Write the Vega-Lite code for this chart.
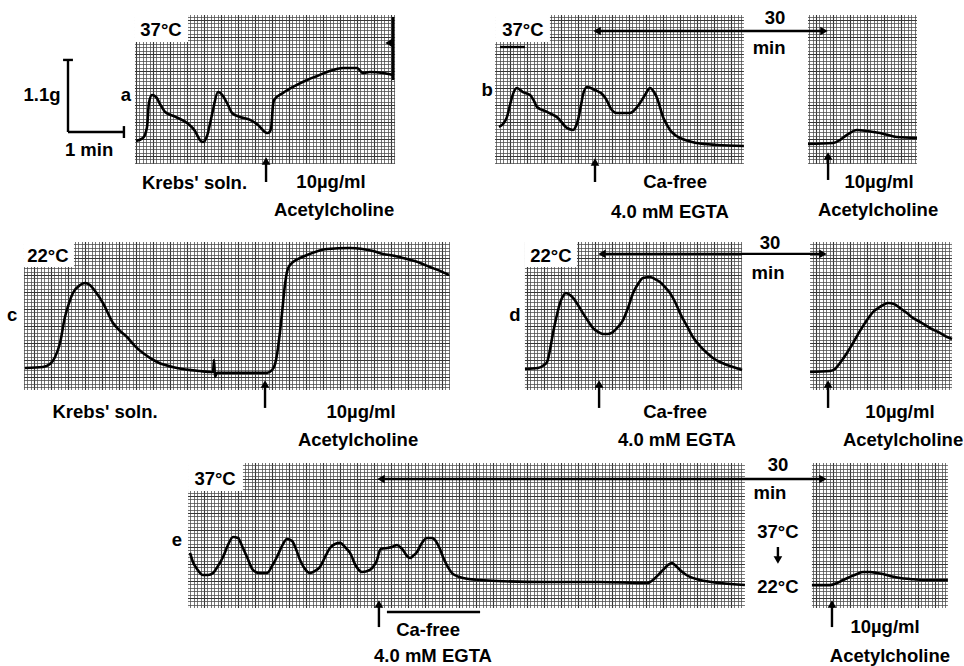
{
  "$schema": "https://vega.github.io/schema/vega-lite/v6.json",
  "width": 964,
  "height": 666,
  "autosize": {"type": "none"},
  "padding": 0,
  "background": "white",
  "config": {
    "view": {"stroke": null},
    "axis": {"labels": false, "ticks": false, "domain": false},
    "text": {"font": "Liberation Sans", "fontWeight": "bold", "fontSize": 18.5}
  },
  "datasets": {
    "mask": [
      {"t": 0, "t2": 567.06, "f": 382.9, "f2": 391.76},
      {"t": 0, "t2": 79.4, "f": 294.8, "f2": 383.4},
      {"t": 232.4, "t2": 291.2, "f": 294.8, "f2": 383.4},
      {"t": 437.6, "t2": 475.3, "f": 294.8, "f2": 383.4},
      {"t": 539.4, "t2": 567.06, "f": 294.8, "f2": 383.4},
      {"t": 0, "t2": 567.06, "f": 249.4, "f2": 295.3},
      {"t": 0, "t2": 14.1, "f": 161.9, "f2": 249.9},
      {"t": 264.7, "t2": 308.8, "f": 161.9, "f2": 249.9},
      {"t": 436.5, "t2": 476.5, "f": 161.9, "f2": 249.9},
      {"t": 560.0, "t2": 567.06, "f": 161.9, "f2": 249.9},
      {"t": 0, "t2": 567.06, "f": 119.4, "f2": 162.4},
      {"t": 0, "t2": 110.6, "f": 33.6, "f2": 119.9},
      {"t": 438.2, "t2": 477.6, "f": 33.6, "f2": 119.9},
      {"t": 557.6, "t2": 567.06, "f": 33.6, "f2": 119.9},
      {"t": 0, "t2": 567.06, "f": 0, "f2": 34.1},
      {"t": 79.4, "t2": 110.6, "f": 367.1, "f2": 382.9},
      {"t": 291.2, "t2": 323.5, "f": 367.1, "f2": 382.9},
      {"t": 14.1, "t2": 43.5, "f": 234.7, "f2": 249.4},
      {"t": 308.8, "t2": 339.4, "f": 234.7, "f2": 249.4},
      {"t": 110.6, "t2": 142.9, "f": 102.9, "f2": 119.4}
    ],
    "trace": [
      {"p": "a", "t": 80.0, "f": 308.8}, {"p": "a", "t": 84.1, "f": 310.6}, {"p": "a", "t": 86.5, "f": 317.1}, {"p": "a", "t": 87.6, "f": 331.2},
      {"p": "a", "t": 89.4, "f": 335.9}, {"p": "a", "t": 91.8, "f": 334.7}, {"p": "a", "t": 94.1, "f": 330.6}, {"p": "a", "t": 97.1, "f": 325.9},
      {"p": "a", "t": 103.5, "f": 322.9}, {"p": "a", "t": 110.0, "f": 319.4}, {"p": "a", "t": 114.7, "f": 314.7}, {"p": "a", "t": 117.6, "f": 309.4},
      {"p": "a", "t": 119.4, "f": 308.2}, {"p": "a", "t": 121.8, "f": 311.8}, {"p": "a", "t": 123.5, "f": 318.8}, {"p": "a", "t": 125.3, "f": 327.1},
      {"p": "a", "t": 128.2, "f": 337.6}, {"p": "a", "t": 131.2, "f": 335.3}, {"p": "a", "t": 134.1, "f": 330.0}, {"p": "a", "t": 136.5, "f": 325.3},
      {"p": "a", "t": 141.2, "f": 322.9}, {"p": "a", "t": 147.1, "f": 321.2}, {"p": "a", "t": 151.8, "f": 318.2}, {"p": "a", "t": 155.9, "f": 314.1},
      {"p": "a", "t": 157.6, "f": 313.5}, {"p": "a", "t": 159.4, "f": 315.9}, {"p": "a", "t": 160.6, "f": 330.0}, {"p": "a", "t": 161.2, "f": 332.9},
      {"p": "a", "t": 166.5, "f": 337.1}, {"p": "a", "t": 173.5, "f": 341.2}, {"p": "a", "t": 180.6, "f": 344.7}, {"p": "a", "t": 186.5, "f": 347.1},
      {"p": "a", "t": 192.4, "f": 349.4}, {"p": "a", "t": 201.8, "f": 351.8}, {"p": "a", "t": 210.0, "f": 351.8}, {"p": "a", "t": 213.5, "f": 348.8},
      {"p": "a", "t": 217.6, "f": 349.4}, {"p": "a", "t": 225.3, "f": 348.8}, {"p": "a", "t": 231.2, "f": 347.6},

      {"p": "b", "t": 293.5, "f": 317.1}, {"p": "b", "t": 295.9, "f": 318.8}, {"p": "b", "t": 298.2, "f": 322.9}, {"p": "b", "t": 300.0, "f": 330.0},
      {"p": "b", "t": 301.2, "f": 334.7}, {"p": "b", "t": 304.1, "f": 340.0}, {"p": "b", "t": 307.6, "f": 337.6}, {"p": "b", "t": 311.8, "f": 335.9},
      {"p": "b", "t": 314.1, "f": 332.4}, {"p": "b", "t": 315.9, "f": 328.8}, {"p": "b", "t": 321.8, "f": 325.9}, {"p": "b", "t": 328.2, "f": 322.4},
      {"p": "b", "t": 333.5, "f": 316.5}, {"p": "b", "t": 337.1, "f": 315.3}, {"p": "b", "t": 338.8, "f": 317.6}, {"p": "b", "t": 340.0, "f": 321.2},
      {"p": "b", "t": 341.8, "f": 330.0}, {"p": "b", "t": 342.9, "f": 335.9}, {"p": "b", "t": 345.3, "f": 340.6}, {"p": "b", "t": 350.0, "f": 338.8},
      {"p": "b", "t": 354.7, "f": 335.9}, {"p": "b", "t": 357.1, "f": 332.4}, {"p": "b", "t": 358.8, "f": 328.8}, {"p": "b", "t": 362.9, "f": 325.3},
      {"p": "b", "t": 370.6, "f": 325.3}, {"p": "b", "t": 376.5, "f": 331.2}, {"p": "b", "t": 379.4, "f": 335.9}, {"p": "b", "t": 382.4, "f": 340.0},
      {"p": "b", "t": 384.7, "f": 337.6}, {"p": "b", "t": 386.5, "f": 334.1}, {"p": "b", "t": 388.2, "f": 328.8}, {"p": "b", "t": 390.0, "f": 322.9},
      {"p": "b", "t": 392.4, "f": 318.2}, {"p": "b", "t": 394.1, "f": 315.3}, {"p": "b", "t": 397.1, "f": 312.4}, {"p": "b", "t": 400.0, "f": 310.6},
      {"p": "b", "t": 410.0, "f": 307.6}, {"p": "b", "t": 421.8, "f": 306.5}, {"p": "b", "t": 437.6, "f": 305.9},

      {"p": "b2", "t": 475.3, "f": 307.1}, {"p": "b2", "t": 490.0, "f": 307.6}, {"p": "b2", "t": 494.1, "f": 309.4}, {"p": "b2", "t": 498.2, "f": 312.4},
      {"p": "b2", "t": 504.1, "f": 315.3}, {"p": "b2", "t": 510.0, "f": 314.7}, {"p": "b2", "t": 517.6, "f": 313.5}, {"p": "b2", "t": 527.6, "f": 311.2},
      {"p": "b2", "t": 539.4, "f": 310.6},

      {"p": "c", "t": 14.7, "f": 175.3}, {"p": "c", "t": 25.3, "f": 175.9}, {"p": "c", "t": 29.4, "f": 177.6}, {"p": "c", "t": 32.4, "f": 181.8},
      {"p": "c", "t": 35.3, "f": 190.0}, {"p": "c", "t": 38.2, "f": 205.3}, {"p": "c", "t": 40.6, "f": 213.5}, {"p": "c", "t": 42.9, "f": 219.4},
      {"p": "c", "t": 47.1, "f": 224.1}, {"p": "c", "t": 50.0, "f": 225.3}, {"p": "c", "t": 52.9, "f": 224.1}, {"p": "c", "t": 55.9, "f": 220.6},
      {"p": "c", "t": 60.6, "f": 213.5}, {"p": "c", "t": 66.5, "f": 201.8}, {"p": "c", "t": 70.6, "f": 197.1}, {"p": "c", "t": 74.7, "f": 193.5},
      {"p": "c", "t": 79.4, "f": 188.2}, {"p": "c", "t": 84.1, "f": 184.1}, {"p": "c", "t": 92.4, "f": 178.8}, {"p": "c", "t": 104.1, "f": 175.3},
      {"p": "c", "t": 117.6, "f": 173.5}, {"p": "c", "t": 125.3, "f": 172.9}, {"p": "c", "t": 125.9, "f": 180.0}, {"p": "c", "t": 126.5, "f": 170.0},
      {"p": "c", "t": 127.6, "f": 172.4}, {"p": "c", "t": 137.1, "f": 172.4}, {"p": "c", "t": 157.1, "f": 172.4}, {"p": "c", "t": 160.0, "f": 174.1},
      {"p": "c", "t": 161.8, "f": 177.6}, {"p": "c", "t": 162.9, "f": 182.9}, {"p": "c", "t": 164.7, "f": 196.5}, {"p": "c", "t": 165.9, "f": 207.6},
      {"p": "c", "t": 167.6, "f": 224.1}, {"p": "c", "t": 168.8, "f": 231.8}, {"p": "c", "t": 170.6, "f": 235.9}, {"p": "c", "t": 172.4, "f": 237.6},
      {"p": "c", "t": 176.5, "f": 240.0}, {"p": "c", "t": 180.6, "f": 241.8}, {"p": "c", "t": 192.4, "f": 245.3}, {"p": "c", "t": 205.9, "f": 245.9},
      {"p": "c", "t": 219.4, "f": 244.1}, {"p": "c", "t": 225.3, "f": 242.4}, {"p": "c", "t": 232.4, "f": 241.2}, {"p": "c", "t": 239.4, "f": 239.4},
      {"p": "c", "t": 247.1, "f": 237.1}, {"p": "c", "t": 252.9, "f": 234.7}, {"p": "c", "t": 258.8, "f": 232.4}, {"p": "c", "t": 264.1, "f": 230.0},

      {"p": "d", "t": 308.8, "f": 174.7}, {"p": "d", "t": 316.5, "f": 175.3}, {"p": "d", "t": 320.0, "f": 177.1}, {"p": "d", "t": 321.8, "f": 178.8},
      {"p": "d", "t": 323.5, "f": 185.9}, {"p": "d", "t": 325.3, "f": 195.9}, {"p": "d", "t": 327.6, "f": 206.5}, {"p": "d", "t": 329.4, "f": 213.5},
      {"p": "d", "t": 331.2, "f": 217.6}, {"p": "d", "t": 332.9, "f": 219.4}, {"p": "d", "t": 335.3, "f": 218.2}, {"p": "d", "t": 337.1, "f": 216.5},
      {"p": "d", "t": 340.0, "f": 212.4}, {"p": "d", "t": 342.9, "f": 207.6}, {"p": "d", "t": 345.9, "f": 202.9}, {"p": "d", "t": 348.8, "f": 198.8},
      {"p": "d", "t": 351.8, "f": 196.5}, {"p": "d", "t": 354.7, "f": 195.3}, {"p": "d", "t": 357.6, "f": 195.3}, {"p": "d", "t": 360.6, "f": 196.5},
      {"p": "d", "t": 363.5, "f": 199.4}, {"p": "d", "t": 366.5, "f": 203.5}, {"p": "d", "t": 369.4, "f": 210.6}, {"p": "d", "t": 372.4, "f": 219.4},
      {"p": "d", "t": 375.3, "f": 224.7}, {"p": "d", "t": 378.2, "f": 228.2}, {"p": "d", "t": 382.4, "f": 228.8}, {"p": "d", "t": 385.3, "f": 227.6},
      {"p": "d", "t": 388.2, "f": 225.9}, {"p": "d", "t": 391.2, "f": 222.9}, {"p": "d", "t": 394.1, "f": 219.4}, {"p": "d", "t": 397.1, "f": 214.1},
      {"p": "d", "t": 400.0, "f": 207.6}, {"p": "d", "t": 404.1, "f": 200.0}, {"p": "d", "t": 407.6, "f": 193.5}, {"p": "d", "t": 411.8, "f": 188.2},
      {"p": "d", "t": 415.9, "f": 184.1}, {"p": "d", "t": 419.4, "f": 181.2}, {"p": "d", "t": 423.5, "f": 178.8}, {"p": "d", "t": 427.6, "f": 177.1},
      {"p": "d", "t": 431.2, "f": 175.9}, {"p": "d", "t": 436.5, "f": 174.1},

      {"p": "d2", "t": 476.5, "f": 172.9}, {"p": "d2", "t": 488.2, "f": 173.5}, {"p": "d2", "t": 491.2, "f": 174.7}, {"p": "d2", "t": 494.1, "f": 178.2},
      {"p": "d2", "t": 498.2, "f": 184.1}, {"p": "d2", "t": 501.8, "f": 190.0}, {"p": "d2", "t": 505.9, "f": 197.1}, {"p": "d2", "t": 510.0, "f": 203.5},
      {"p": "d2", "t": 513.5, "f": 208.2}, {"p": "d2", "t": 517.6, "f": 211.2}, {"p": "d2", "t": 522.4, "f": 213.5}, {"p": "d2", "t": 525.9, "f": 212.9},
      {"p": "d2", "t": 529.4, "f": 210.6}, {"p": "d2", "t": 533.5, "f": 207.6}, {"p": "d2", "t": 537.1, "f": 204.7}, {"p": "d2", "t": 541.2, "f": 202.4},
      {"p": "d2", "t": 547.1, "f": 198.8}, {"p": "d2", "t": 552.9, "f": 195.9}, {"p": "d2", "t": 557.1, "f": 193.5}, {"p": "d2", "t": 560.0, "f": 192.4},

      {"p": "e", "t": 111.8, "f": 66.5}, {"p": "e", "t": 113.5, "f": 61.2}, {"p": "e", "t": 115.9, "f": 57.1}, {"p": "e", "t": 119.4, "f": 53.5},
      {"p": "e", "t": 122.4, "f": 53.5}, {"p": "e", "t": 125.3, "f": 54.7}, {"p": "e", "t": 128.2, "f": 58.8}, {"p": "e", "t": 131.2, "f": 64.1},
      {"p": "e", "t": 134.1, "f": 71.2}, {"p": "e", "t": 137.1, "f": 75.9}, {"p": "e", "t": 140.0, "f": 75.3}, {"p": "e", "t": 142.4, "f": 70.6},
      {"p": "e", "t": 145.3, "f": 64.1}, {"p": "e", "t": 148.8, "f": 56.5}, {"p": "e", "t": 152.9, "f": 54.7}, {"p": "e", "t": 157.1, "f": 54.7},
      {"p": "e", "t": 160.0, "f": 58.8}, {"p": "e", "t": 162.9, "f": 64.1}, {"p": "e", "t": 165.9, "f": 70.6}, {"p": "e", "t": 168.8, "f": 74.7},
      {"p": "e", "t": 171.8, "f": 73.5}, {"p": "e", "t": 174.1, "f": 68.8}, {"p": "e", "t": 176.5, "f": 62.4}, {"p": "e", "t": 179.4, "f": 57.1},
      {"p": "e", "t": 182.4, "f": 54.7}, {"p": "e", "t": 185.3, "f": 55.9}, {"p": "e", "t": 188.2, "f": 58.2}, {"p": "e", "t": 191.2, "f": 64.1},
      {"p": "e", "t": 194.1, "f": 69.4}, {"p": "e", "t": 197.1, "f": 71.8}, {"p": "e", "t": 200.0, "f": 72.4}, {"p": "e", "t": 202.9, "f": 70.0},
      {"p": "e", "t": 205.9, "f": 66.5}, {"p": "e", "t": 209.4, "f": 58.8}, {"p": "e", "t": 212.9, "f": 55.3}, {"p": "e", "t": 217.6, "f": 56.5},
      {"p": "e", "t": 220.6, "f": 60.0}, {"p": "e", "t": 221.8, "f": 62.4}, {"p": "e", "t": 222.9, "f": 66.5}, {"p": "e", "t": 224.1, "f": 68.8},
      {"p": "e", "t": 227.6, "f": 69.4}, {"p": "e", "t": 230.6, "f": 70.0}, {"p": "e", "t": 233.5, "f": 71.2}, {"p": "e", "t": 235.3, "f": 70.0},
      {"p": "e", "t": 237.1, "f": 68.2}, {"p": "e", "t": 239.4, "f": 64.7}, {"p": "e", "t": 241.2, "f": 63.5}, {"p": "e", "t": 242.9, "f": 64.7},
      {"p": "e", "t": 245.3, "f": 67.1}, {"p": "e", "t": 248.2, "f": 72.4}, {"p": "e", "t": 251.2, "f": 75.3}, {"p": "e", "t": 254.1, "f": 75.3},
      {"p": "e", "t": 255.9, "f": 74.1}, {"p": "e", "t": 258.8, "f": 68.8}, {"p": "e", "t": 260.6, "f": 64.1}, {"p": "e", "t": 263.5, "f": 58.2},
      {"p": "e", "t": 265.9, "f": 54.7}, {"p": "e", "t": 268.8, "f": 52.9}, {"p": "e", "t": 272.4, "f": 51.8}, {"p": "e", "t": 282.4, "f": 50.6},
      {"p": "e", "t": 292.4, "f": 50.0}, {"p": "e", "t": 321.8, "f": 49.4}, {"p": "e", "t": 352.9, "f": 49.4}, {"p": "e", "t": 380.6, "f": 48.8},
      {"p": "e", "t": 382.4, "f": 49.4}, {"p": "e", "t": 384.1, "f": 50.6}, {"p": "e", "t": 387.1, "f": 53.5}, {"p": "e", "t": 390.0, "f": 56.5},
      {"p": "e", "t": 392.9, "f": 59.4}, {"p": "e", "t": 395.3, "f": 60.6}, {"p": "e", "t": 397.6, "f": 58.8}, {"p": "e", "t": 400.0, "f": 56.5},
      {"p": "e", "t": 402.9, "f": 54.1}, {"p": "e", "t": 405.9, "f": 52.4}, {"p": "e", "t": 411.8, "f": 50.6}, {"p": "e", "t": 423.5, "f": 48.8},
      {"p": "e", "t": 438.2, "f": 47.6},

      {"p": "e2", "t": 477.6, "f": 47.6}, {"p": "e2", "t": 488.2, "f": 47.6}, {"p": "e2", "t": 492.4, "f": 48.8}, {"p": "e2", "t": 495.9, "f": 50.6},
      {"p": "e2", "t": 500.0, "f": 52.4}, {"p": "e2", "t": 504.1, "f": 54.1}, {"p": "e2", "t": 507.6, "f": 55.3}, {"p": "e2", "t": 511.8, "f": 55.3},
      {"p": "e2", "t": 515.9, "f": 54.7}, {"p": "e2", "t": 519.4, "f": 54.1}, {"p": "e2", "t": 523.5, "f": 52.9}, {"p": "e2", "t": 529.4, "f": 51.8},
      {"p": "e2", "t": 535.3, "f": 51.2}, {"p": "e2", "t": 542.9, "f": 50.6}, {"p": "e2", "t": 557.6, "f": 50.6}
    ],
    "rules": [
      {"t": 40.0, "t2": 40.0, "f": 356.5, "f2": 314.1},
      {"t": 37.1, "t2": 42.9, "f": 356.5, "f2": 356.5},
      {"t": 40.0, "t2": 72.9, "f": 314.1, "f2": 314.1},
      {"t": 72.9, "t2": 72.9, "f": 317.6, "f2": 310.6},
      {"t": 231.2, "t2": 231.2, "f": 381.8, "f2": 344.7},
      {"t": 294.1, "t2": 308.8, "f": 364.1, "f2": 364.1},
      {"t": 351.2, "t2": 484.7, "f": 373.5, "f2": 373.5},
      {"t": 354.1, "t2": 484.1, "f": 242.4, "f2": 242.4},
      {"t": 224.1, "t2": 484.1, "f": 110.0, "f2": 110.0},
      {"t": 156.5, "t2": 156.5, "f": 284.7, "f2": 297.1},
      {"t": 350.0, "t2": 350.0, "f": 284.7, "f2": 296.5},
      {"t": 487.1, "t2": 487.1, "f": 285.9, "f2": 300.0},
      {"t": 155.9, "t2": 155.9, "f": 151.8, "f2": 165.9},
      {"t": 352.4, "t2": 352.4, "f": 151.8, "f2": 165.9},
      {"t": 487.1, "t2": 487.1, "f": 151.8, "f2": 165.9},
      {"t": 222.9, "t2": 222.9, "f": 22.9, "f2": 36.5},
      {"t": 489.4, "t2": 489.4, "f": 22.9, "f2": 36.5},
      {"t": 457.6, "t2": 457.6, "f": 70.0, "f2": 62.4},
      {"t": 227.6, "t2": 282.4, "f": 31.8, "f2": 31.8}
    ],
    "heads": [
      {"t": 351.2, "f": 373.5, "dir": "left"}, {"t": 484.7, "f": 373.5, "dir": "right"},
      {"t": 354.1, "f": 242.4, "dir": "left"}, {"t": 484.1, "f": 242.4, "dir": "right"},
      {"t": 224.1, "f": 110.0, "dir": "left"}, {"t": 484.1, "f": 110.0, "dir": "right"},
      {"t": 156.5, "f": 297.1, "dir": "up"}, {"t": 350.0, "f": 296.5, "dir": "up"},
      {"t": 487.1, "f": 300.0, "dir": "up"}, {"t": 155.9, "f": 165.9, "dir": "up"},
      {"t": 352.4, "f": 165.9, "dir": "up"}, {"t": 487.1, "f": 165.9, "dir": "up"},
      {"t": 222.9, "f": 36.5, "dir": "up"}, {"t": 489.4, "f": 36.5, "dir": "up"},
      {"t": 457.6, "f": 62.4, "dir": "down"}, {"t": 228.8, "f": 366.5, "dir": "left"}
    ],
    "labels": [
      {"t": 24.7, "f": 335.9, "s": "1.1g"},
      {"t": 52.4, "f": 303.5, "s": "1 min"},
      {"t": 74.1, "f": 335.9, "s": "a"},
      {"t": 94.7, "f": 374.1, "s": "37°C"},
      {"t": 114.4, "f": 284.1, "s": "Krebs' soln."},
      {"t": 194.7, "f": 284.7, "s": "10µg/ml"},
      {"t": 196.5, "f": 268.2, "s": "Acetylcholine"},
      {"t": 286.5, "f": 338.8, "s": "b"},
      {"t": 307.6, "f": 374.1, "s": "37°C"},
      {"t": 397.1, "f": 284.7, "s": "Ca-free"},
      {"t": 394.1, "f": 267.1, "s": "4.0 mM EGTA"},
      {"t": 455.9, "f": 381.2, "s": "30"},
      {"t": 452.4, "f": 363.5, "s": "min"},
      {"t": 517.1, "f": 284.7, "s": "10µg/ml"},
      {"t": 516.5, "f": 268.2, "s": "Acetylcholine"},
      {"t": 7.1, "f": 206.5, "s": "c"},
      {"t": 28.2, "f": 241.2, "s": "22°C"},
      {"t": 61.8, "f": 149.4, "s": "Krebs' soln."},
      {"t": 212.4, "f": 149.4, "s": "10µg/ml"},
      {"t": 210.6, "f": 132.9, "s": "Acetylcholine"},
      {"t": 302.9, "f": 206.5, "s": "d"},
      {"t": 324.1, "f": 241.2, "s": "22°C"},
      {"t": 397.1, "f": 149.4, "s": "Ca-free"},
      {"t": 398.2, "f": 132.9, "s": "4.0 mM EGTA"},
      {"t": 452.9, "f": 248.8, "s": "30"},
      {"t": 451.8, "f": 231.2, "s": "min"},
      {"t": 529.4, "f": 149.4, "s": "10µg/ml"},
      {"t": 531.2, "f": 132.9, "s": "Acetylcholine"},
      {"t": 104.1, "f": 74.1, "s": "e"},
      {"t": 126.5, "f": 110.0, "s": "37°C"},
      {"t": 251.8, "f": 21.2, "s": "Ca-free"},
      {"t": 254.7, "f": 5.8, "s": "4.0 mM EGTA"},
      {"t": 457.6, "f": 118.2, "s": "30"},
      {"t": 452.9, "f": 101.8, "s": "min"},
      {"t": 457.6, "f": 78.8, "s": "37°C"},
      {"t": 457.6, "f": 46.5, "s": "22°C"},
      {"t": 520.6, "f": 22.9, "s": "10µg/ml"},
      {"t": 523.5, "f": 5.8, "s": "Acetylcholine"}
    ]
  },
  "layer": [
    {
      "data": {"values": [{"t": 0, "f": 0}]},
      "mark": {"type": "point", "opacity": 0},
      "encoding": {
        "x": {"field": "t", "type": "quantitative", "scale": {"domain": [0, 567.06], "nice": false, "zero": false},
              "axis": {"title": null, "grid": true, "tickCount": 57, "gridColor": "#000000", "gridWidth": 1.1}},
        "y": {"field": "f", "type": "quantitative", "scale": {"domain": [0, 391.76], "nice": false, "zero": false},
              "axis": {"title": null, "grid": true, "tickCount": 39, "gridColor": "#000000", "gridWidth": 1.1}}
      }
    },
    {
      "layer": [
        {
          "data": {"name": "mask"},
          "mark": {"type": "rect", "color": "white"},
          "encoding": {
            "x": {"field": "t", "type": "quantitative", "scale": {"domain": [0, 567.06], "nice": false, "zero": false},
                  "axis": {"title": null, "grid": true, "tickCount": 284, "gridColor": "#4a4a4a", "gridWidth": 0.75}},
            "x2": {"field": "t2"},
            "y": {"field": "f", "type": "quantitative", "scale": {"domain": [0, 391.76], "nice": false, "zero": false},
                  "axis": {"title": null, "grid": true, "tickCount": 196, "gridColor": "#4a4a4a", "gridWidth": 0.75}},
            "y2": {"field": "f2"}
          }
        },
        {
          "data": {"name": "trace"},
          "mark": {"type": "line", "color": "black", "strokeWidth": 2.6, "interpolate": "monotone"},
          "encoding": {
            "x": {"field": "t", "type": "quantitative"},
            "y": {"field": "f", "type": "quantitative"},
            "detail": {"field": "p"}
          }
        },
        {
          "data": {"name": "rules"},
          "mark": {"type": "rule", "color": "black", "strokeWidth": 2.4},
          "encoding": {
            "x": {"field": "t", "type": "quantitative"},
            "x2": {"field": "t2"},
            "y": {"field": "f", "type": "quantitative"},
            "y2": {"field": "f2"}
          }
        },
        {
          "data": {"name": "heads"},
          "mark": {"type": "point", "filled": true, "color": "black", "opacity": 1, "size": 75},
          "encoding": {
            "x": {"field": "t", "type": "quantitative"},
            "y": {"field": "f", "type": "quantitative"},
            "shape": {"field": "dir", "type": "nominal", "legend": null,
                      "scale": {"domain": ["left", "right", "up", "down"], "range": ["triangle-left", "triangle-right", "triangle-up", "triangle-down"]}}
          }
        },
        {
          "data": {"name": "labels"},
          "mark": {"type": "text", "color": "black", "align": "center", "baseline": "middle"},
          "encoding": {
            "x": {"field": "t", "type": "quantitative"},
            "y": {"field": "f", "type": "quantitative"},
            "text": {"field": "s"}
          }
        }
      ]
    }
  ],
  "resolve": {"scale": {"x": "independent", "y": "independent"}}
}
